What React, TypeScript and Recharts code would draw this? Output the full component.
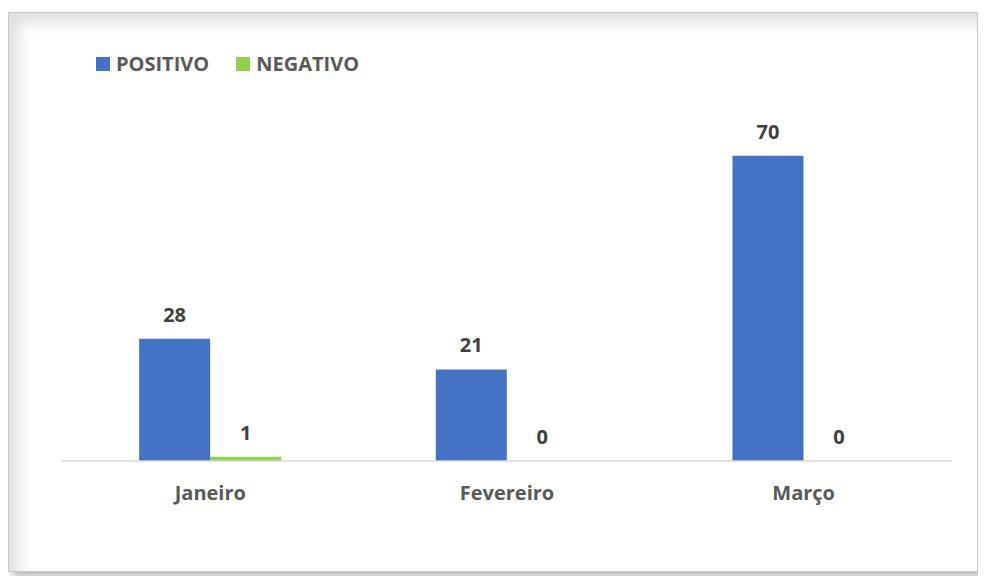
import React from "react";
import { BarChart, Bar, XAxis, YAxis, Legend, LabelList } from "recharts";

const months = ["Janeiro", "Fevereiro", "Março"];
const positivo = [28, 21, 70];
const negativo = [1, 0, 0];

const BLUE = "#4472C4";
const GREEN = "#92D050";
const FONT = "'Open Sans', Lato, sans-serif";

const data = months.map((m, i) => ({ month: m, positivo: positivo[i], negativo: negativo[i] }));

function LegendBox() {
  const items = [
    { label: "POSITIVO", color: BLUE },
    { label: "NEGATIVO", color: GREEN },
  ];
  return (
    <div style={{ display: "flex", alignItems: "center", fontFamily: FONT, fontWeight: 700, fontSize: 20, color: "#595959" }}>
      {items.map((it) => (
        <div key={it.label} style={{ display: "flex", alignItems: "center", marginRight: 27 }}>
          <span style={{ width: 14, height: 14, background: it.color, display: "inline-block", marginRight: 6 }} />
          <span>{it.label}</span>
        </div>
      ))}
    </div>
  );
}

const labelStyle = { fill: "#404040", fontSize: 20, fontWeight: 700, fontFamily: FONT };

function TopLabel(props: any) {
  const { x, y, width, value } = props;
  return (
    <text x={x + width / 2} y={y - 17} textAnchor="middle" style={labelStyle}>
      {value}
    </text>
  );
}

export default function App() {
  return (
    <div style={{ position: "relative", width: 978, height: 568 }}>
      <div
        style={{
          position: "absolute",
          left: 0,
          top: 4,
          width: 970,
          height: 560,
          border: "1px solid #c8c8c8",
          boxSizing: "border-box",
          boxShadow: "inset 10px 10px 14px rgba(0,0,0,0.12), 4px 4px 8px rgba(0,0,0,0.3)",
          background: "#fff",
        }}
      />
      <div style={{ position: "absolute", left: 0, top: 0 }}>
        <BarChart
          width={978}
          height={568}
          data={data}
          margin={{ top: 77, right: 34, bottom: 85, left: 54 }}
          barGap={0}
          barCategoryGap="26%"
        >
          <Legend
            verticalAlign="top"
            align="left"
            content={() => <LegendBox />}
            wrapperStyle={{ position: "absolute", top: 42, left: 88, width: "auto" }}
          />
          <XAxis
            dataKey="month"
            axisLine={{ stroke: "#d9d9d9", strokeWidth: 1.5 }}
            tickLine={false}
            tickMargin={19}
            tick={{ fill: "#595959", fontSize: 20, fontWeight: 700, fontFamily: FONT }}
            height={30}
          />
          <YAxis hide domain={[0, 80]} />
          <Bar dataKey="positivo" fill={BLUE} isAnimationActive={false} minPointSize={0.01}>
            <LabelList dataKey="positivo" content={TopLabel} />
          </Bar>
          <Bar dataKey="negativo" fill={GREEN} isAnimationActive={false} minPointSize={0.01}>
            <LabelList dataKey="negativo" content={TopLabel} />
          </Bar>
        </BarChart>
      </div>
    </div>
  );
}
